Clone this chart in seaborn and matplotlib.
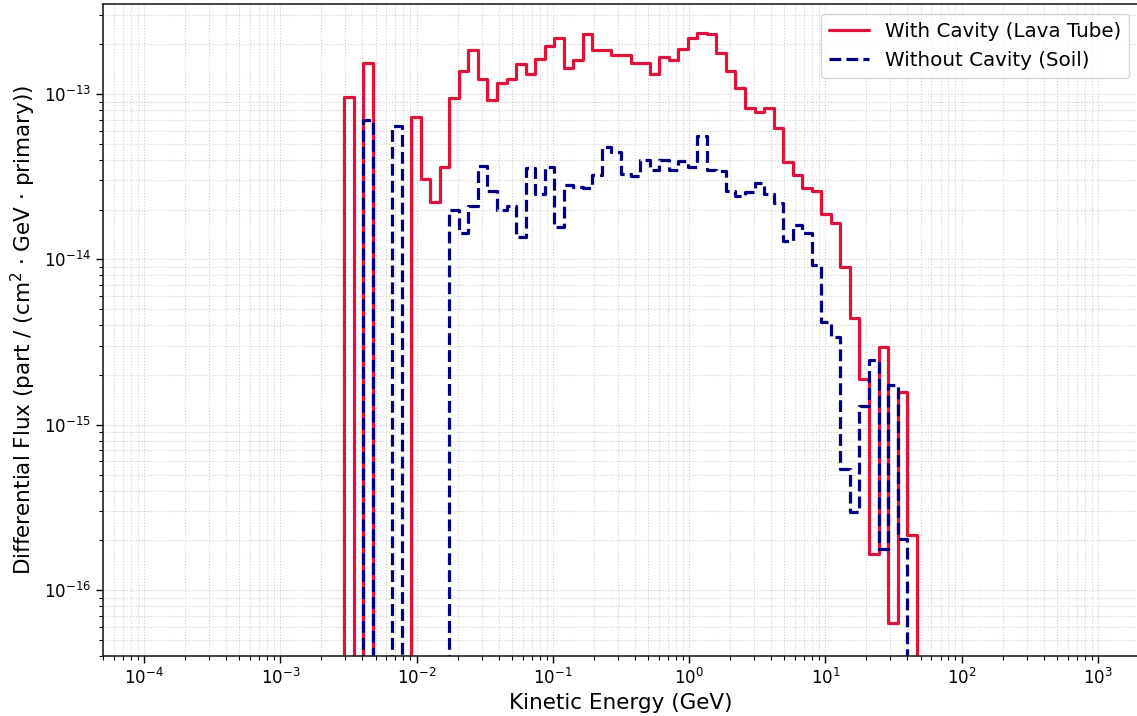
import numpy as np
import matplotlib
matplotlib.use("Agg")
import matplotlib.pyplot as plt
from matplotlib.lines import Line2D
from matplotlib.ticker import LogLocator, NullFormatter, FixedLocator
import seaborn as sns

# Histogram binning: 100 log-spaced bins from 1e-4 to 1e3 GeV (edges in log10 space)
log_edges = np.linspace(-4, 3, 101)
first_bin = 21  # index of the first bin listed below

# Differential flux per bin (bins 21 .. 80), part / (cm^2 GeV primary)
flux_lava = [
    9.6e-14, 0, 1.55e-13, 0, 0, 0, 0, 7.3e-14, 3.06e-14, 2.21e-14,
    3.63e-14, 9.4e-14, 1.38e-13, 1.85e-13, 1.23e-13, 9.2e-14, 1.16e-13, 1.23e-13, 1.52e-13, 1.32e-13,
    1.62e-13, 1.96e-13, 2.17e-13, 1.43e-13, 1.61e-13, 2.30e-13, 1.85e-13, 1.85e-13, 1.72e-13, 1.72e-13,
    1.53e-13, 1.53e-13, 1.33e-13, 1.68e-13, 1.61e-13, 1.86e-13, 2.17e-13, 2.33e-13, 2.30e-13, 1.76e-13,
    1.38e-13, 1.08e-13, 8.2e-14, 7.8e-14, 8.2e-14, 6.25e-14, 3.89e-14, 3.23e-14, 2.69e-14, 2.60e-14,
    1.87e-14, 1.67e-14, 9.0e-15, 4.4e-15, 1.9e-15, 1.66e-16, 2.94e-15, 6.3e-17, 1.57e-15, 2.15e-16,
]
flux_soil = [
    0, 0, 6.97e-14, 0, 0, 6.4e-14, 0, 0, 0, 0,
    0, 2.0e-14, 1.44e-14, 2.09e-14, 3.68e-14, 2.6e-14, 2.0e-14, 2.09e-14, 1.36e-14, 3.55e-14,
    2.5e-14, 3.63e-14, 1.56e-14, 2.8e-14, 2.75e-14, 2.69e-14, 3.23e-14, 4.8e-14, 4.45e-14, 3.3e-14,
    3.2e-14, 3.98e-14, 3.47e-14, 4.0e-14, 3.47e-14, 3.95e-14, 3.63e-14, 5.55e-14, 3.47e-14, 3.4e-14,
    2.6e-14, 2.4e-14, 2.55e-14, 2.88e-14, 2.5e-14, 2.2e-14, 1.29e-14, 1.62e-14, 1.44e-14, 9.25e-15,
    4.19e-15, 3.4e-15, 5.44e-16, 2.97e-16, 1.3e-15, 2.46e-15, 1.78e-16, 1.74e-15, 2.05e-16, 0,
]
series_labels = ["With Cavity (Lava Tube)", "Without Cavity (Soil)"]
series_colors = ["#DC143C", "#000080"]
series_styles = ["-", "--"]
x_major_ticks = [1e-4, 1e-3, 1e-2, 1e-1, 1e0, 1e1, 1e2, 1e3]
y_major_ticks = [1e-16, 1e-15, 1e-14, 1e-13]

sns.set_style("ticks")
plt.rcParams["font.family"] = ["DejaVu Sans"]
plt.rcParams["text.color"] = "black"
plt.rcParams["axes.labelcolor"] = "black"
plt.rcParams["xtick.color"] = "black"
plt.rcParams["ytick.color"] = "black"

fig = plt.figure(figsize=(11.37, 7.16), dpi=100)
ax = fig.add_axes([103 / 1137, 60 / 716, 1036 / 1137, 652 / 716])

n = len(flux_lava)
idx = np.arange(first_bin, first_bin + n)
energy = 10 ** (0.5 * (log_edges[idx] + log_edges[idx + 1]))

for flux, color, ls in zip([flux_lava, flux_soil], series_colors, series_styles):
    sns.histplot(x=energy, weights=np.asarray(flux, dtype=float), bins=list(log_edges),
                 element="step", fill=False, log_scale=(True, False),
                 color=color, linestyle=ls, linewidth=2.3, ax=ax)

ax.set_yscale("log")
ax.set_xlim(5e-5, 2e3)
ax.set_ylim(4e-17, 3.5e-13)

ax.xaxis.set_major_locator(FixedLocator(x_major_ticks))
ax.xaxis.set_minor_locator(LogLocator(base=10, subs=np.arange(2, 10), numticks=200))
ax.xaxis.set_minor_formatter(NullFormatter())
ax.yaxis.set_major_locator(FixedLocator(y_major_ticks))
ax.yaxis.set_minor_locator(LogLocator(base=10, subs=np.arange(2, 10), numticks=200))
ax.yaxis.set_minor_formatter(NullFormatter())

ax.grid(True, which="both", linestyle=":", linewidth=0.8, color="#cfcfcf")
ax.tick_params(axis="both", which="major", labelsize=12, length=5, width=1)
ax.tick_params(axis="both", which="minor", length=3, width=0.8)
for sp in ax.spines.values():
    sp.set_color("#222222")
    sp.set_linewidth(1.2)

ax.set_xlabel("Kinetic Energy (GeV)", fontsize=15.5)
ax.set_ylabel("Differential Flux (part / (cm$^2$ · GeV · primary))", fontsize=15.5)

handles = [Line2D([], [], color=c, linestyle=s, linewidth=2.3) for c, s in zip(series_colors, series_styles)]
ax.legend(handles, series_labels, loc="upper right", fontsize=14.3, frameon=True)

fig.savefig("out.png", dpi=100)
